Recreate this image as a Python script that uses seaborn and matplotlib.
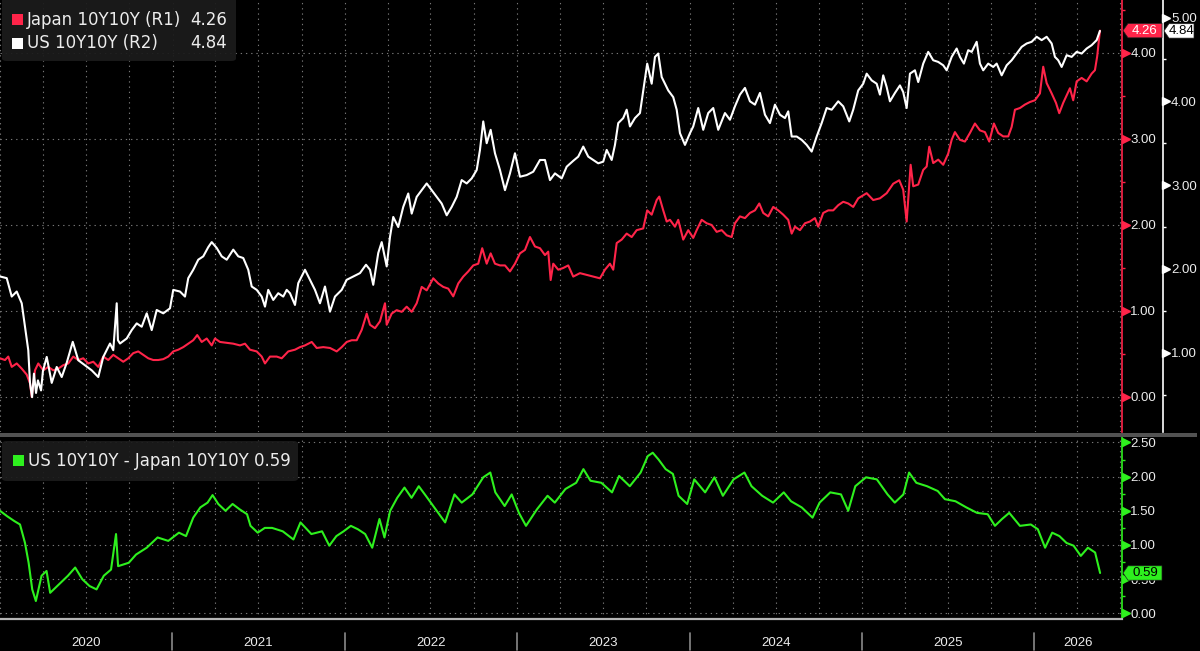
import numpy as np
import pandas as pd
import matplotlib
matplotlib.use("Agg")
import matplotlib.pyplot as plt
import matplotlib.dates as mdates
import matplotlib.transforms as mtrans
from matplotlib.patches import Rectangle, FancyBboxPatch, Polygon
import seaborn as sns

# ---------------- data (decimal years) ----------------
us_t = [2020.000, 2020.039, 2020.068, 2020.097, 2020.126, 2020.145, 2020.164, 2020.174, 2020.186, 2020.197,
        2020.209, 2020.220, 2020.238, 2020.249, 2020.271, 2020.300, 2020.329, 2020.358, 2020.387, 2020.422,
        2020.454, 2020.493, 2020.532, 2020.570, 2020.599, 2020.638, 2020.657, 2020.677, 2020.684, 2020.696,
        2020.735, 2020.764, 2020.793, 2020.822, 2020.851, 2020.880, 2020.909, 2020.947, 2020.986, 2021.005,
        2021.044, 2021.073, 2021.092, 2021.121, 2021.150, 2021.179, 2021.208, 2021.228, 2021.257, 2021.286,
        2021.315, 2021.353, 2021.382, 2021.411, 2021.440, 2021.460, 2021.489, 2021.518, 2021.537, 2021.556,
        2021.585, 2021.614, 2021.643, 2021.663, 2021.682, 2021.711, 2021.730, 2021.769, 2021.798, 2021.827,
        2021.856, 2021.885, 2021.914, 2021.943, 2021.982, 2022.011, 2022.049, 2022.088, 2022.123, 2022.146,
        2022.165, 2022.194, 2022.214, 2022.243, 2022.262, 2022.281, 2022.310, 2022.339, 2022.368, 2022.388,
        2022.417, 2022.446, 2022.475, 2022.504, 2022.533, 2022.562, 2022.591, 2022.620, 2022.649, 2022.678,
        2022.707, 2022.736, 2022.765, 2022.784, 2022.803, 2022.823, 2022.846, 2022.871, 2022.900, 2022.929,
        2022.958, 2022.987, 2023.016, 2023.055, 2023.093, 2023.132, 2023.161, 2023.190, 2023.219, 2023.258,
        2023.287, 2023.325, 2023.354, 2023.383, 2023.412, 2023.441, 2023.470, 2023.499, 2023.519, 2023.548,
        2023.567, 2023.586, 2023.615, 2023.635, 2023.654, 2023.683, 2023.712, 2023.731, 2023.754, 2023.780,
        2023.799, 2023.818, 2023.838, 2023.857, 2023.876, 2023.905, 2023.925, 2023.944, 2023.973, 2024.002,
        2024.021, 2024.050, 2024.079, 2024.108, 2024.137, 2024.166, 2024.205, 2024.234, 2024.263, 2024.292,
        2024.321, 2024.350, 2024.379, 2024.408, 2024.437, 2024.466, 2024.495, 2024.524, 2024.553, 2024.572,
        2024.592, 2024.621, 2024.650, 2024.679, 2024.708, 2024.737, 2024.766, 2024.795, 2024.824, 2024.862,
        2024.891, 2024.926, 2024.949, 2024.978, 2025.007, 2025.027, 2025.056, 2025.085, 2025.104, 2025.123,
        2025.143, 2025.162, 2025.191, 2025.220, 2025.239, 2025.259, 2025.278, 2025.307, 2025.326, 2025.355,
        2025.384, 2025.413, 2025.442, 2025.471, 2025.491, 2025.520, 2025.549, 2025.568, 2025.591, 2025.616,
        2025.636, 2025.665, 2025.684, 2025.703, 2025.732, 2025.761, 2025.781, 2025.810, 2025.839, 2025.868,
        2025.897, 2025.926, 2025.955, 2025.984, 2026.013, 2026.042, 2026.071, 2026.100, 2026.119, 2026.138,
        2026.158, 2026.187, 2026.216, 2026.245, 2026.274, 2026.303, 2026.332, 2026.361, 2026.380]
us_v = [1.91, 1.89, 1.67, 1.73, 1.59, 1.31, 1.03, 0.64, 0.47, 0.75,
        0.52, 0.67, 0.55, 0.78, 0.95, 0.64, 0.83, 0.71, 0.88, 1.13,
        0.91, 0.85, 0.79, 0.71, 0.95, 1.11, 1.03, 1.59, 1.15, 1.11,
        1.17, 1.27, 1.35, 1.31, 1.47, 1.27, 1.51, 1.47, 1.53, 1.75,
        1.73, 1.67, 1.89, 1.99, 2.11, 2.15, 2.26, 2.32, 2.25, 2.15,
        2.11, 2.23, 2.15, 2.13, 1.99, 1.79, 1.75, 1.67, 1.55, 1.75,
        1.63, 1.71, 1.67, 1.75, 1.71, 1.57, 1.83, 1.99, 1.87, 1.75,
        1.59, 1.79, 1.49, 1.67, 1.75, 1.87, 1.91, 1.95, 2.05, 1.99,
        1.81, 2.19, 2.32, 2.03, 2.38, 2.62, 2.50, 2.74, 2.90, 2.66,
        2.86, 2.94, 3.02, 2.94, 2.86, 2.78, 2.64, 2.74, 2.86, 3.06,
        3.02, 3.08, 3.18, 3.42, 3.76, 3.50, 3.66, 3.38, 3.18, 2.94,
        3.14, 3.38, 3.10, 3.12, 3.16, 3.30, 3.30, 3.06, 3.14, 3.08,
        3.22, 3.29, 3.34, 3.46, 3.34, 3.30, 3.26, 3.28, 3.42, 3.30,
        3.48, 3.74, 3.80, 3.90, 3.70, 3.80, 3.86, 4.13, 4.45, 4.21,
        4.53, 4.57, 4.29, 4.21, 4.13, 4.05, 3.90, 3.62, 3.48, 3.62,
        3.70, 3.92, 3.66, 3.86, 3.92, 3.66, 3.86, 3.78, 3.94, 4.08,
        4.16, 4.00, 3.96, 4.10, 3.84, 3.74, 3.96, 3.84, 3.80, 3.88,
        3.58, 3.58, 3.54, 3.48, 3.40, 3.58, 3.74, 3.92, 3.90, 4.00,
        3.94, 3.76, 3.90, 4.13, 4.21, 4.33, 4.25, 4.21, 4.08, 4.31,
        4.17, 4.00, 4.10, 4.19, 4.11, 3.92, 4.33, 4.37, 4.23, 4.45,
        4.59, 4.49, 4.47, 4.43, 4.37, 4.53, 4.63, 4.53, 4.45, 4.61,
        4.59, 4.71, 4.45, 4.37, 4.45, 4.41, 4.45, 4.31, 4.43, 4.49,
        4.57, 4.65, 4.69, 4.71, 4.77, 4.73, 4.77, 4.69, 4.53, 4.49,
        4.41, 4.55, 4.53, 4.59, 4.57, 4.63, 4.67, 4.73, 4.84]

jp_t = [2020.000, 2020.029, 2020.048, 2020.068, 2020.097, 2020.126, 2020.155, 2020.174, 2020.184, 2020.203,
        2020.222, 2020.251, 2020.280, 2020.309, 2020.338, 2020.367, 2020.396, 2020.425, 2020.454, 2020.483,
        2020.512, 2020.541, 2020.570, 2020.599, 2020.628, 2020.657, 2020.686, 2020.715, 2020.744, 2020.773,
        2020.802, 2020.831, 2020.860, 2020.889, 2020.918, 2020.947, 2020.976, 2021.005, 2021.034, 2021.063,
        2021.092, 2021.121, 2021.144, 2021.170, 2021.199, 2021.228, 2021.247, 2021.276, 2021.315, 2021.353,
        2021.392, 2021.421, 2021.450, 2021.489, 2021.518, 2021.537, 2021.566, 2021.605, 2021.634, 2021.672,
        2021.711, 2021.740, 2021.769, 2021.808, 2021.837, 2021.875, 2021.914, 2021.953, 2021.982, 2022.011,
        2022.040, 2022.069, 2022.098, 2022.127, 2022.146, 2022.175, 2022.204, 2022.233, 2022.243, 2022.272,
        2022.301, 2022.330, 2022.359, 2022.388, 2022.417, 2022.446, 2022.475, 2022.513, 2022.542, 2022.571,
        2022.600, 2022.629, 2022.658, 2022.687, 2022.716, 2022.745, 2022.774, 2022.797, 2022.823, 2022.846,
        2022.871, 2022.900, 2022.929, 2022.958, 2022.987, 2023.016, 2023.045, 2023.074, 2023.103, 2023.132,
        2023.161, 2023.180, 2023.194, 2023.209, 2023.238, 2023.267, 2023.296, 2023.325, 2023.364, 2023.403,
        2023.441, 2023.480, 2023.509, 2023.538, 2023.557, 2023.577, 2023.606, 2023.635, 2023.664, 2023.693,
        2023.731, 2023.754, 2023.780, 2023.809, 2023.824, 2023.847, 2023.867, 2023.886, 2023.915, 2023.934,
        2023.963, 2023.992, 2024.021, 2024.041, 2024.070, 2024.099, 2024.128, 2024.157, 2024.186, 2024.215,
        2024.244, 2024.263, 2024.292, 2024.321, 2024.350, 2024.379, 2024.404, 2024.427, 2024.456, 2024.485,
        2024.514, 2024.543, 2024.572, 2024.592, 2024.611, 2024.640, 2024.669, 2024.698, 2024.727, 2024.746,
        2024.775, 2024.804, 2024.833, 2024.862, 2024.891, 2024.920, 2024.949, 2024.978, 2025.027, 2025.065,
        2025.104, 2025.143, 2025.181, 2025.216, 2025.239, 2025.259, 2025.282, 2025.297, 2025.326, 2025.355,
        2025.375, 2025.390, 2025.413, 2025.442, 2025.471, 2025.500, 2025.520, 2025.539, 2025.568, 2025.597,
        2025.626, 2025.655, 2025.684, 2025.713, 2025.738, 2025.765, 2025.790, 2025.819, 2025.848, 2025.868,
        2025.887, 2025.916, 2025.945, 2025.974, 2026.003, 2026.032, 2026.051, 2026.071, 2026.100, 2026.125,
        2026.144, 2026.167, 2026.206, 2026.225, 2026.245, 2026.274, 2026.303, 2026.332, 2026.351, 2026.364,
        2026.380]
jp_v = [0.45, 0.43, 0.47, 0.35, 0.39, 0.33, 0.26, 0.16, 0.00, 0.31,
        0.39, 0.31, 0.35, 0.31, 0.33, 0.37, 0.39, 0.47, 0.43, 0.45,
        0.39, 0.41, 0.35, 0.47, 0.43, 0.49, 0.45, 0.41, 0.45, 0.51,
        0.53, 0.49, 0.45, 0.43, 0.43, 0.44, 0.47, 0.53, 0.55, 0.58,
        0.62, 0.66, 0.72, 0.64, 0.68, 0.60, 0.68, 0.64, 0.63, 0.62,
        0.60, 0.62, 0.55, 0.53, 0.47, 0.39, 0.47, 0.47, 0.45, 0.53,
        0.55, 0.58, 0.60, 0.64, 0.57, 0.58, 0.57, 0.53, 0.58, 0.64,
        0.66, 0.66, 0.78, 0.97, 0.84, 0.80, 0.88, 1.09, 0.84, 0.97,
        1.01, 0.99, 1.05, 0.99, 1.09, 1.28, 1.24, 1.38, 1.32, 1.28,
        1.26, 1.17, 1.32, 1.40, 1.46, 1.53, 1.55, 1.73, 1.55, 1.67,
        1.55, 1.53, 1.53, 1.46, 1.55, 1.67, 1.71, 1.86, 1.75, 1.73,
        1.65, 1.69, 1.36, 1.55, 1.48, 1.50, 1.53, 1.40, 1.44, 1.42,
        1.40, 1.38, 1.48, 1.55, 1.48, 1.79, 1.83, 1.90, 1.86, 1.94,
        1.96, 2.17, 2.12, 2.29, 2.33, 2.17, 2.04, 2.06, 1.98, 2.06,
        1.83, 1.94, 1.85, 1.94, 2.06, 2.02, 2.00, 1.92, 1.94, 1.88,
        1.86, 2.02, 2.10, 2.08, 2.14, 2.17, 2.25, 2.14, 2.10, 2.21,
        2.17, 2.12, 2.06, 1.90, 1.98, 1.94, 2.02, 2.04, 2.08, 1.98,
        2.14, 2.17, 2.17, 2.23, 2.27, 2.25, 2.21, 2.31, 2.37, 2.29,
        2.31, 2.37, 2.48, 2.52, 2.41, 2.04, 2.70, 2.45, 2.47, 2.64,
        2.68, 2.91, 2.72, 2.76, 2.70, 2.83, 2.99, 3.08, 2.99, 2.97,
        3.07, 3.18, 3.10, 3.08, 2.97, 3.18, 3.07, 3.03, 3.03, 3.14,
        3.34, 3.36, 3.40, 3.43, 3.45, 3.53, 3.84, 3.65, 3.53, 3.42,
        3.30, 3.42, 3.59, 3.45, 3.67, 3.71, 3.67, 3.76, 3.80, 3.96,
        4.26]

sp_t = [2020.000, 2020.042, 2020.083, 2020.116, 2020.145, 2020.166, 2020.187, 2020.208, 2020.241, 2020.270,
        2020.291, 2020.332, 2020.394, 2020.436, 2020.477, 2020.519, 2020.560, 2020.602, 2020.644, 2020.673,
        2020.685, 2020.747, 2020.789, 2020.851, 2020.914, 2020.976, 2021.038, 2021.079, 2021.121, 2021.162,
        2021.204, 2021.233, 2021.266, 2021.308, 2021.349, 2021.391, 2021.433, 2021.453, 2021.495, 2021.536,
        2021.578, 2021.640, 2021.702, 2021.743, 2021.806, 2021.868, 2021.910, 2021.951, 2021.993, 2022.035,
        2022.076, 2022.118, 2022.159, 2022.201, 2022.230, 2022.263, 2022.304, 2022.346, 2022.387, 2022.429,
        2022.470, 2022.533, 2022.582, 2022.636, 2022.678, 2022.740, 2022.803, 2022.844, 2022.873, 2022.927,
        2022.968, 2023.010, 2023.051, 2023.114, 2023.176, 2023.218, 2023.280, 2023.342, 2023.384, 2023.425,
        2023.488, 2023.550, 2023.591, 2023.653, 2023.716, 2023.757, 2023.786, 2023.820, 2023.861, 2023.903,
        2023.936, 2023.986, 2024.027, 2024.090, 2024.144, 2024.193, 2024.255, 2024.318, 2024.359, 2024.421,
        2024.484, 2024.546, 2024.588, 2024.650, 2024.713, 2024.754, 2024.816, 2024.878, 2024.920, 2024.961,
        2025.023, 2025.086, 2025.148, 2025.190, 2025.240, 2025.273, 2025.315, 2025.377, 2025.439, 2025.481,
        2025.542, 2025.605, 2025.667, 2025.729, 2025.771, 2025.812, 2025.854, 2025.916, 2025.979, 2026.020,
        2026.062, 2026.103, 2026.145, 2026.186, 2026.227, 2026.269, 2026.310, 2026.352, 2026.381]
sp_v = [1.50, 1.42, 1.35, 1.30, 1.03, 0.74, 0.35, 0.18, 0.55, 0.62,
        0.30, 0.40, 0.55, 0.67, 0.50, 0.40, 0.35, 0.55, 0.64, 1.16,
        0.69, 0.74, 0.86, 0.96, 1.11, 1.06, 1.18, 1.13, 1.40, 1.55,
        1.62, 1.73, 1.60, 1.50, 1.60, 1.52, 1.45, 1.28, 1.18, 1.25,
        1.25, 1.20, 1.08, 1.33, 1.16, 1.20, 0.99, 1.13, 1.20, 1.28,
        1.23, 1.16, 0.96, 1.38, 1.11, 1.50, 1.69, 1.84, 1.69, 1.86,
        1.72, 1.50, 1.33, 1.74, 1.62, 1.74, 1.99, 2.06, 1.77, 1.57,
        1.74, 1.47, 1.28, 1.52, 1.72, 1.62, 1.82, 1.91, 2.11, 1.94,
        1.91, 1.77, 2.01, 1.86, 2.06, 2.30, 2.35, 2.25, 2.11, 2.04,
        1.72, 1.60, 1.96, 1.77, 1.99, 1.72, 1.96, 2.06, 1.86, 1.72,
        1.62, 1.77, 1.64, 1.55, 1.40, 1.62, 1.77, 1.74, 1.50, 1.86,
        1.99, 1.96, 1.74, 1.62, 1.74, 2.06, 1.91, 1.86, 1.79, 1.67,
        1.64, 1.55, 1.47, 1.45, 1.28, 1.38, 1.47, 1.28, 1.30, 1.23,
        0.96, 1.18, 1.13, 1.03, 0.99, 0.84, 0.96, 0.89, 0.59]

years = ["2020", "2021", "2022", "2023", "2024", "2025", "2026"]
jp_ticks = [0.0, 1.0, 2.0, 3.0, 4.0]
us_ticks = [1.0, 2.0, 3.0, 4.0, 5.0]
sp_ticks = [0.0, 0.5, 1.0, 1.5, 2.0, 2.5]

jp_label = "Japan 10Y10Y (R1)"
us_label = "US 10Y10Y (R2)"
sp_label = "US 10Y10Y - Japan 10Y10Y"

# ---------------- styling ----------------
RED = "#ff2449"
GREEN = "#2ef01e"
WHITE = "#ffffff"
TXT = "#ececec"
GRID = "#767676"
GRID_LS = (0, (1.2, 3.5))
TICK_FS = 9.5

sns.set_theme(style="dark", rc={"axes.facecolor": "black", "figure.facecolor": "black"})
plt.rcParams["font.family"] = ["Liberation Sans", "DejaVu Sans"]

W, H = 1200, 651


def fx(x):
    return x / W


def fy(y):
    return 1 - y / H


def to_dates(t):
    t = np.asarray(t, dtype=float)
    return pd.Timestamp("2020-01-01") + pd.to_timedelta((t - 2020.0) * 365.25, unit="D")


us_d = to_dates(us_t)
jp_d = to_dates(jp_t)
sp_d = to_dates(sp_t)
x_start, x_end = 2020.0, 2026.508
xmin, xmax = to_dates([x_start, x_end])

fig = plt.figure(figsize=(12, 6.51), dpi=100, facecolor="black")
ax_jp = fig.add_axes([0, fy(432), fx(1122), 432 / H])
ax_us = ax_jp.twinx()
ax_sp = fig.add_axes([0, fy(619), fx(1122), (619 - 437) / H])

for ax in (ax_jp, ax_sp):
    ax.set_facecolor("black")
ax_us.patch.set_visible(False)

sns.lineplot(x=jp_d, y=jp_v, ax=ax_jp, color=RED, lw=1.5)
sns.lineplot(x=us_d, y=us_v, ax=ax_us, color=WHITE, lw=1.5)
sns.lineplot(x=sp_d, y=sp_v, ax=ax_sp, color=GREEN, lw=1.5)

for ax in (ax_jp, ax_us, ax_sp):
    ax.set_xlabel("")
    ax.set_ylabel("")
    ax.set_xlim(xmin, xmax)
    for s in ax.spines.values():
        s.set_visible(False)

# x axis: quarterly grid, monthly ticks
for ax in (ax_jp, ax_sp):
    ax.xaxis.set_major_locator(mdates.MonthLocator(bymonth=[1, 4, 7, 10]))
    ax.xaxis.set_minor_locator(mdates.MonthLocator())
    ax.grid(True, which="major", axis="both", color=GRID, ls=GRID_LS, lw=0.8)
    ax.grid(False, which="minor")
ax_us.grid(False)
ax_jp.tick_params(axis="x", which="both", length=0, labelbottom=False)
ax_sp.tick_params(axis="x", which="both", direction="out", length=3, width=0.8,
                  color="#d8d8d8", labelbottom=False)
ax_sp.spines["bottom"].set_visible(True)
ax_sp.spines["bottom"].set_color("#b5b5b5")
ax_sp.spines["bottom"].set_linewidth(1.6)


def setup_yaxis(ax, ticks, color, spine_pos, pad):
    ax.yaxis.tick_right()
    ax.spines["right"].set_visible(True)
    ax.spines["right"].set_color(color)
    ax.spines["right"].set_linewidth(1.2)
    if spine_pos is not None:
        ax.spines["right"].set_position(("axes", spine_pos))
    ax.set_yticks(ticks)
    ax.set_yticklabels([f"{v:.2f}" for v in ticks])
    step = ticks[1] - ticks[0]
    minors = [v + step / 2 for v in ticks] + [ticks[0] - step / 2]
    ax.set_yticks(minors, minor=True)
    ax.tick_params(axis="y", which="major", length=0, pad=pad, labelsize=TICK_FS,
                   labelcolor=TXT, left=False, right=True)
    ax.tick_params(axis="y", which="minor", length=2.5, width=1, color=color,
                   direction="out", left=False, right=True)
    xpos = (spine_pos if spine_pos is not None else 1.0) + 3.5 / 1122
    tr = mtrans.blended_transform_factory(ax.transAxes, ax.transData)
    ax.plot([xpos] * len(ticks), ticks, ls="none", marker=">", ms=5.5, color=color,
            transform=tr, clip_on=False, zorder=5)


setup_yaxis(ax_jp, jp_ticks, RED, None, 6.0)
setup_yaxis(ax_us, us_ticks, WHITE, 1162.7 / 1122, 6.0)
setup_yaxis(ax_sp, sp_ticks, GREEN, None, 6.0)
ax_jp.set_ylim(-0.407, 4.616)
ax_us.set_ylim(0.054, 5.209)
ax_sp.set_ylim(-0.083, 2.58)
for ax in (ax_jp, ax_us, ax_sp):
    ax.set_xlim(xmin, xmax)

# year labels and separators under the bottom panel
tr_x = mtrans.blended_transform_factory(ax_sp.transData, ax_sp.transAxes)
for yr in years:
    y0 = max(float(yr), x_start)
    y1 = min(float(yr) + 1, x_end)
    mid = to_dates([(y0 + y1) / 2])[0]
    ax_sp.text(mid, -0.132, yr, transform=tr_x, ha="center", va="center",
               fontsize=TICK_FS, color=TXT, clip_on=False)
    if float(yr) > x_start:
        b = to_dates([float(yr)])[0]
        ax_sp.plot([b, b], [-0.077, -0.170], transform=tr_x, color="#8a8a8a",
                   lw=1.2, clip_on=False)

# separator bar between panels
fig.add_artist(Rectangle((0, fy(436.5)), fx(1197), 4 / H, transform=fig.transFigure,
                         fc="#525252", ec="none", zorder=4))


# legends
def legend_box(x0, y0, x1, y1):
    fig.add_artist(FancyBboxPatch((fx(x0), fy(y1)), fx(x1 - x0), (y1 - y0) / H,
                                  boxstyle="round,pad=0,rounding_size=0.004",
                                  transform=fig.transFigure, fc="#1b1b1b", ec="none",
                                  alpha=0.93, zorder=5))


def swatch(x0, y0, color):
    fig.add_artist(Rectangle((fx(x0), fy(y0 + 11)), fx(11), 11 / H,
                             transform=fig.transFigure, fc=color, ec="none", zorder=6))


legend_box(2, -5, 236, 61)
swatch(12, 14, RED)
swatch(12, 37.5, WHITE)
fig.text(fx(27), fy(19.8), jp_label, ha="left", va="center", fontsize=12,
         color=TXT, family="DejaVu Sans", zorder=7)
fig.text(fx(227), fy(19.8), f"{jp_v[-1]:.2f}", ha="right", va="center", fontsize=12,
         color=TXT, family="DejaVu Sans", zorder=7)
fig.text(fx(27), fy(43), us_label, ha="left", va="center", fontsize=12,
         color=TXT, family="DejaVu Sans", zorder=7)
fig.text(fx(227), fy(43), f"{us_v[-1]:.2f}", ha="right", va="center", fontsize=12,
         color=TXT, family="DejaVu Sans", zorder=7)

legend_box(2, 441, 298, 481)
swatch(12.5, 455, GREEN)
fig.text(fx(28), fy(461), f"{sp_label} {sp_v[-1]:.2f}", ha="left", va="center",
         fontsize=12, color=TXT, family="DejaVu Sans", zorder=7)


# last-value tags on the axes
def value_tag(ax, val, x0, w, fc, tc):
    yc = ax.transData.transform((0, val))[1]
    h = 7.2
    pts = [(x0, yc), (x0 + 5, yc + h), (x0 + w, yc + h), (x0 + w, yc - h), (x0 + 5, yc - h)]
    fig.add_artist(Polygon([(px / W, py / H) for px, py in pts], closed=True,
                           transform=fig.transFigure, fc=fc, ec="#202020", lw=0.5, zorder=8))
    fig.text((x0 + 5 + x0 + w) / 2 / W, yc / H, f"{val:.2f}", ha="center",
             va="center", fontsize=TICK_FS, color=tc, zorder=9)


value_tag(ax_jp, jp_v[-1], 1123, 39, RED, "white")
value_tag(ax_us, us_v[-1], 1164, 30, WHITE, "black")
value_tag(ax_sp, sp_v[-1], 1123, 39, GREEN, "black")

fig.savefig("out.png", dpi=100, facecolor="black")
